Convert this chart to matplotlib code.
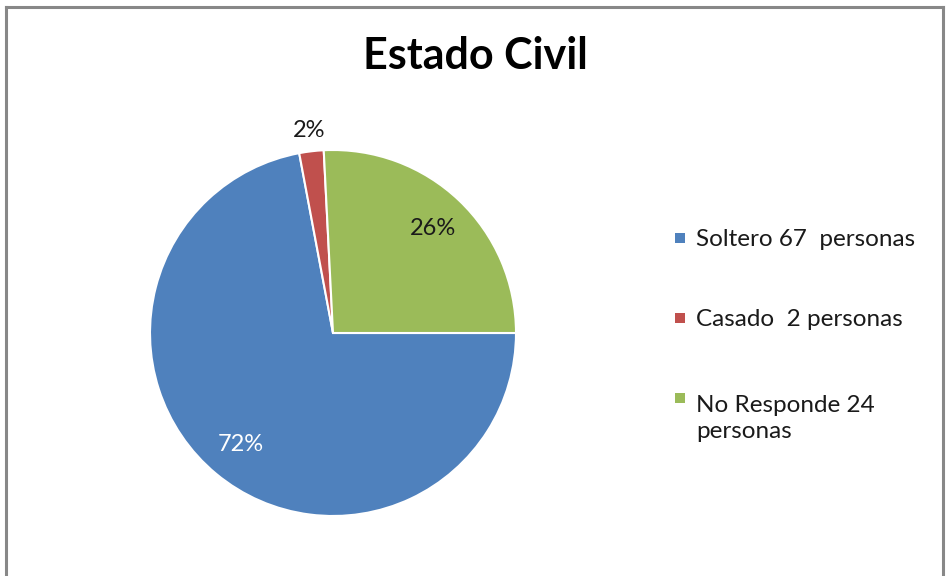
import numpy as np
import matplotlib.pyplot as plt
from matplotlib.lines import Line2D
from matplotlib.patches import Rectangle

plt.rcParams['font.family'] = ['Lato', 'DejaVu Sans']

categorias = ['Soltero 67  personas', 'Casado  2 personas', 'No Responde 24\npersonas']
personas = [67, 2, 24]
colores = ['#4F81BD', '#C0504D', '#9BBB59']
color_pct = ['white', '#1a1a1a', '#1a1a1a']

W, H = 947, 576
fig = plt.figure(figsize=(W / 100, H / 100), dpi=100)

# chart frame (left, top, right edges visible)
borde = '#888888'
for xs, ys in [([5.5, 5.5], [0, H - 6.5]), ([5.5, 942.5], [H - 6.5, H - 6.5]), ([942.5, 942.5], [0, H - 6.5])]:
    fig.add_artist(Line2D([x / W for x in xs], [y / H for y in ys], color=borde, lw=2.2,
                          transform=fig.transFigure, solid_capstyle='projecting'))

# pie axes: center (333, 333) px, radius 183 px
cx, cy, r = 333, 333, 183
ax = fig.add_axes([(cx - r) / W, (H - cy - r) / H, 2 * r / W, 2 * r / H])

wedges, texts, autotexts = ax.pie(
    personas, colors=colores, startangle=0, counterclock=False,
    autopct='%1.0f%%', pctdistance=0.79,
    wedgeprops=dict(edgecolor='white', linewidth=1.5),
    textprops=dict(fontsize=17))
ax.set_xlim(-1, 1)
ax.set_ylim(-1, 1)
ax.set_aspect('equal')

for w, t, c in zip(wedges, autotexts, color_pct):
    t.set_color(c)
    t.set_clip_on(False)
    # small slice label goes outside the pie
    if (w.theta2 - w.theta1) < 20:
        ang = np.deg2rad((w.theta1 + w.theta2) / 2)
        t.set_position((1.115 * np.cos(ang), 1.115 * np.sin(ang)))

fig.text(475 / W, 1 - 56 / H, 'Estado Civil', ha='center', va='center',
         fontsize=31, fontweight='bold', color='black')

# legend drawn by hand so the marker sits on the first line of each label
sq = 10
fs = 17.5
ls = 1.33
line_px = fs * ls * 100 / 72
for i, (lab, col) in enumerate(zip(categorias, colores)):
    yc = 238 + 80 * i
    fig.add_artist(Rectangle((675 / W, (H - yc - sq / 2) / H), sq / W, sq / H,
                             facecolor=col, edgecolor='none', transform=fig.transFigure))
    nextra = lab.count('\n')
    fig.text(696 / W, (H - yc - 8 - nextra * line_px) / H, lab, ha='left', va='baseline',
             fontsize=fs, color='#1a1a1a', linespacing=ls)

fig.savefig('out.png', dpi=100)
